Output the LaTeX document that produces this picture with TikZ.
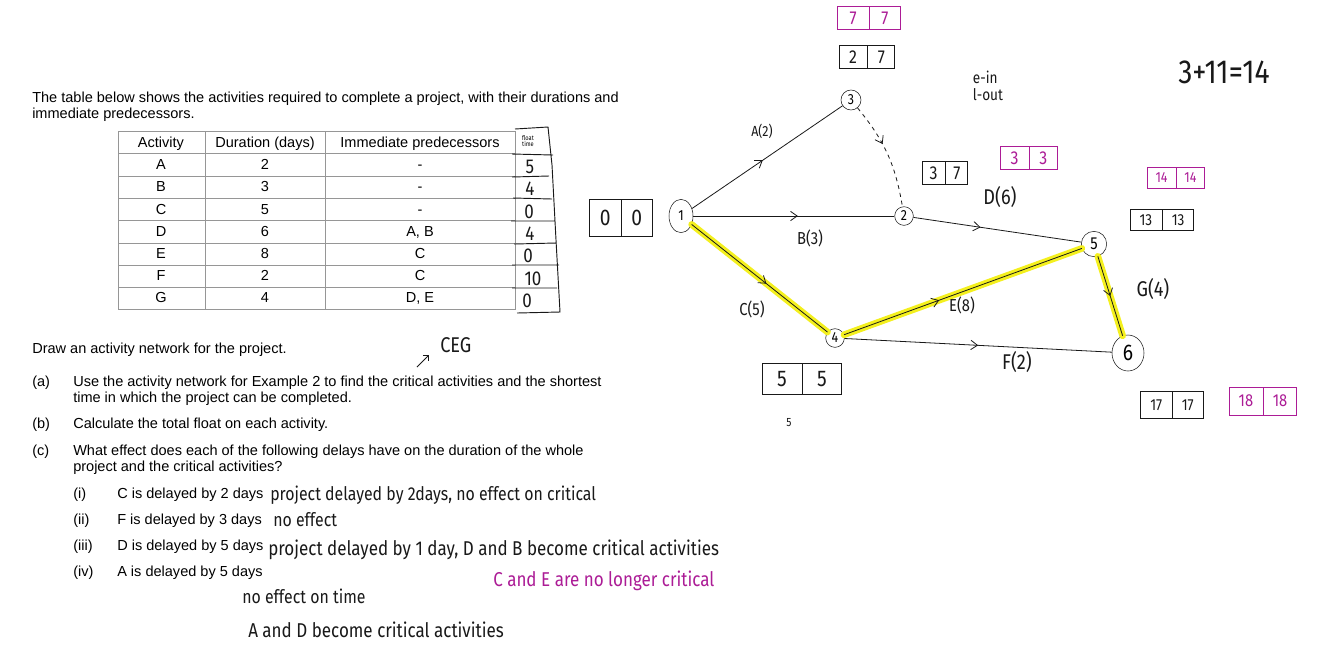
\documentclass[tikz,border=0pt]{standalone}
\usepackage{fontspec}
\setmainfont{Liberation Sans}
\newfontfamily\hand{Fira Sans}[FakeStretch=0.85]
\usetikzlibrary{arrows.meta,shapes.geometric,shapes.multipart,decorations.markings}
\definecolor{ink}{RGB}{25,25,25}
\definecolor{pink}{RGB}{172,28,150}
\definecolor{marker}{RGB}{244,240,30}
\definecolor{rule}{RGB}{150,150,150}
\begin{document}
\begin{tikzpicture}[x=0.75pt,y=-0.75pt,
  print/.style={anchor=base west, inner sep=0pt, font=\fontsize{10.9}{12}\selectfont},
  cellt/.style={anchor=base, inner sep=0pt, font=\fontsize{10.9}{12}\selectfont},
  note/.style={anchor=base west, inner sep=0pt, text=ink, font=\hand\fontsize{14}{14}\selectfont},
  evt/.style={draw=ink, ellipse, inner sep=0pt, fill=white, font=\hand\fontsize{11}{11}\selectfont},
  act/.style={draw=ink, line width=0.6pt},
  midarrow/.style={postaction={decorate}, decoration={markings,
    mark=at position #1 with {\arrow{Straight Barb[length=5pt,width=7pt]}}}},
  glow/.style={draw=marker, line width=5pt, line cap=round},
  cell/.style={draw=ink, line width=0.7pt, rectangle split, rectangle split horizontal,
    rectangle split parts=2, font=\hand\fontsize{14}{14}\selectfont, text=ink},
  lbl/.style={inner sep=0pt, text=ink, font=\hand\fontsize{13}{13}\selectfont}]
\useasboundingbox[fill=white] (0,0) rectangle (1334,662);

% question text
\node[print] (intro1) at (32,102) {The table below shows the activities required to complete a project, with their durations and};
\node[print] (intro2) at (32,118) {immediate predecessors.};

% table
\draw[rule, line width=0.6pt] (118,131) rectangle (515,309)
  (205,131) -- (205,309) (325,131) -- (325,309)
  (118,153) -- (515,153) (118,176) -- (515,176) (118,198) -- (515,198)
  (118,220) -- (515,220) (118,243) -- (515,243) (118,265) -- (515,265)
  (118,287) -- (515,287);
\node[cellt] (h1) at (161,147) {Activity};
\node[cellt] (h2) at (265,147) {Duration (days)};
\node[cellt] (h3) at (420,147) {Immediate predecessors};
\node[cellt] (a1) at (161,169) {A};
\node[cellt] (a2) at (265,169) {2};
\node[cellt] (a3) at (420,169) {-};
\node[cellt] (b1) at (161,191) {B};
\node[cellt] (b2) at (265,191) {3};
\node[cellt] (b3) at (420,191) {-};
\node[cellt] (c1) at (161,214) {C};
\node[cellt] (c2) at (265,214) {5};
\node[cellt] (c3) at (420,214) {-};
\node[cellt] (d1) at (161,236) {D};
\node[cellt] (d2) at (265,236) {6};
\node[cellt] (d3) at (420,236) {A, B};
\node[cellt] (e1) at (161,258) {E};
\node[cellt] (e2) at (265,258) {8};
\node[cellt] (e3) at (420,258) {C};
\node[cellt] (f1) at (161,280) {F};
\node[cellt] (f2) at (265,280) {2};
\node[cellt] (f3) at (420,280) {C};
\node[cellt] (g1) at (161,302) {G};
\node[cellt] (g2) at (265,302) {4};
\node[cellt] (g3) at (420,302) {D, E};

% float column, by hand
\draw[ink, line width=0.7pt] (515,129) -- (548,127) -- (552,165) -- (556,240) -- (560,312) -- (517,313)
  (512,154) -- (553,155) (512,177) -- (549,176) (513,198) -- (552,199)
  (511,221) -- (555,221) (514,244) -- (556,243) (512,265) -- (559,265)
  (512,288) -- (557,288);
\node[inner sep=0pt, align=center, font=\hand\fontsize{5}{4}\selectfont] (flt) at (528,141) {float\\time};
\node[lbl, font=\hand\fontsize{15}{15}\selectfont] (fa) at (530,167) {5};
\node[lbl, font=\hand\fontsize{15}{15}\selectfont] (fb) at (530,189) {4};
\node[lbl, font=\hand\fontsize{15}{15}\selectfont] (fc) at (529,212) {0};
\node[lbl, font=\hand\fontsize{15}{15}\selectfont] (fd) at (530,234) {4};
\node[lbl, font=\hand\fontsize{15}{15}\selectfont] (fe) at (528,256) {0};
\node[lbl, font=\hand\fontsize{15}{15}\selectfont] (ff) at (533,279) {10};
\node[lbl, font=\hand\fontsize{15}{15}\selectfont] (fg) at (527,301) {0};

% questions
\node[print] (q0) at (32,353) {Draw an activity network for the project.};
\node[print] (qa) at (32,386) {(a)};
\node[print] (qa1) at (73,386) {Use the activity network for Example 2 to find the critical activities and the shortest};
\node[print] (qa2) at (73,402) {time in which the project can be completed.};
\node[print] (qb) at (32,428) {(b)};
\node[print] (qb1) at (73,428) {Calculate the total float on each activity.};
\node[print] (qc) at (32,455) {(c)};
\node[print] (qc1) at (73,455) {What effect does each of the following delays have on the duration of the whole};
\node[print] (qc2) at (73,471) {project and the critical activities?};
\node[print] (r1) at (73,498) {(i)};
\node[print] (r1t) at (117,498) {C is delayed by 2 days};
\node[print] (r2) at (73,524) {(ii)};
\node[print] (r2t) at (117,524) {F is delayed by 3 days};
\node[print] (r3) at (73,550) {(iii)};
\node[print] (r3t) at (117,550) {D is delayed by 5 days};
\node[print] (r4) at (73,576) {(iv)};
\node[print] (r4t) at (117,576) {A is delayed by 5 days};

% answers, by hand
\node[note] (ans1) at (270,500) {project delayed by 2days, no effect on critical};
\node[note] (ans2) at (273,526) {no effect};
\node[note, font=\hand\fontsize{15}{15}\selectfont] (ans3) at (268,555) {project delayed by 1 day, D and B become critical activities};
\node[note, text=pink, font=\hand\fontsize{15}{15}\selectfont] (ans3b) at (493,586) {C and E are no longer critical};
\node[note] (ans4) at (242,603) {no effect on time};
\node[note, font=\hand\fontsize{15}{15}\selectfont] (ans4b) at (248,637) {A and D become critical activities};
\node[note, font=\hand\fontsize{16}{16}\selectfont] (ceg) at (440,352) {CEG};
\coordinate (ceg tail) at (417,367);
\coordinate (ceg tip) at (429,355);
\draw[ink, line width=0.6pt, -{Straight Barb[length=3pt]}] (ceg tail) -- (ceg tip);

% network
\node[evt, minimum width=18pt, minimum height=25pt] (n1) at (681,216) {1};
\node[evt, minimum size=15pt] (n3) at (851,100) {3};
\node[evt, minimum size=14pt] (n2) at (904,216) {2};
\node[evt, minimum size=19pt, font=\hand\fontsize{13}{13}\selectfont] (n5) at (1094,244) {5};
\node[evt, minimum size=14pt] (n4) at (835,338) {4};
\node[evt, minimum width=24pt, minimum height=27pt, font=\hand\fontsize{17}{17}\selectfont] (n6) at (1128,353) {6};

\draw[glow] (n1) -- (n4);
\draw[glow] (n4) -- (n5);
\draw[glow] (n5) -- (n6);

\draw[act, midarrow=0.47] (n1) -- (n3);
\draw[act, midarrow=0.52] (n1) -- (n2);
\draw[act, dashed, midarrow=0.4] (n3) to[bend left=15] (n2);
\draw[act, midarrow=0.4] (n2) -- (n5);
\draw[act, midarrow=0.55] (n1) -- (n4);
\draw[act, midarrow=0.4] (n4) -- (n5);
\draw[act, midarrow=0.5] (n5) -- (n6);
\draw[act, midarrow=0.5] (n4) -- (n6);

\node[lbl, font=\hand\fontsize{11}{11}\selectfont] (la) at (762,131) {A(2)};
\node[lbl] (lb) at (810,238) {B(3)};
\node[lbl] (lc) at (752,309) {C(5)};
\node[lbl, font=\hand\fontsize{16}{16}\selectfont] (ld) at (1000,197) {D(6)};
\node[lbl] (le) at (962,305) {E(8)};
\node[lbl, font=\hand\fontsize{16}{16}\selectfont] (lf) at (1017,362) {F(2)};
\node[lbl, font=\hand\fontsize{16}{16}\selectfont] (lg) at (1153,289) {G(4)};

% event times
\node[cell, inner xsep=7.5pt, inner ysep=8pt, font=\hand\fontsize{17}{17}\selectfont] (t1) at (621,218) {0\nodepart{two}0};
\node[cell, inner xsep=7.5pt, inner ysep=3.5pt] (t3) at (867,57) {2\nodepart{two}7};
\node[cell, draw=pink, text=pink, inner xsep=9pt, inner ysep=4pt] (t3b) at (869,18) {7\nodepart{two}7};
\node[cell, inner xsep=5.5pt, inner ysep=4pt] (t2) at (945,173) {3\nodepart{two}7};
\node[cell, draw=pink, text=pink, inner xsep=7.5pt, inner ysep=3.5pt] (t2b) at (1029,158) {3\nodepart{two}3};
\node[cell, draw=pink, text=pink, inner xsep=6pt, inner ysep=4pt, font=\hand\fontsize{11}{11}\selectfont] (t5b) at (1176,178) {14\nodepart{two}14};
\node[cell, inner xsep=7pt, inner ysep=4pt, font=\hand\fontsize{12}{12}\selectfont] (t5) at (1162,220) {13\nodepart{two}13};
\node[cell, inner xsep=11pt, inner ysep=6pt, font=\hand\fontsize{17}{17}\selectfont] (t4) at (802,379) {5\nodepart{two}5};
\node[cell, inner xsep=7pt, inner ysep=6pt, font=\hand\fontsize{12}{12}\selectfont] (t6) at (1172,405) {17\nodepart{two}17};
\node[cell, draw=pink, text=pink, inner xsep=7pt, inner ysep=6pt, font=\hand\fontsize{13}{13}\selectfont] (t6b) at (1263,401) {18\nodepart{two}18};

% side notes
\node[lbl, align=left, font=\hand\fontsize{12}{13}\selectfont] (key) at (988,86) {e-in\\l-out};
\node[lbl, font=\hand\fontsize{25}{25}\selectfont] (sum) at (1224,72) {3+11=14};
\node[lbl, font=\hand\fontsize{9}{9}\selectfont] (five) at (789,423) {5};
\end{tikzpicture}
\end{document}
